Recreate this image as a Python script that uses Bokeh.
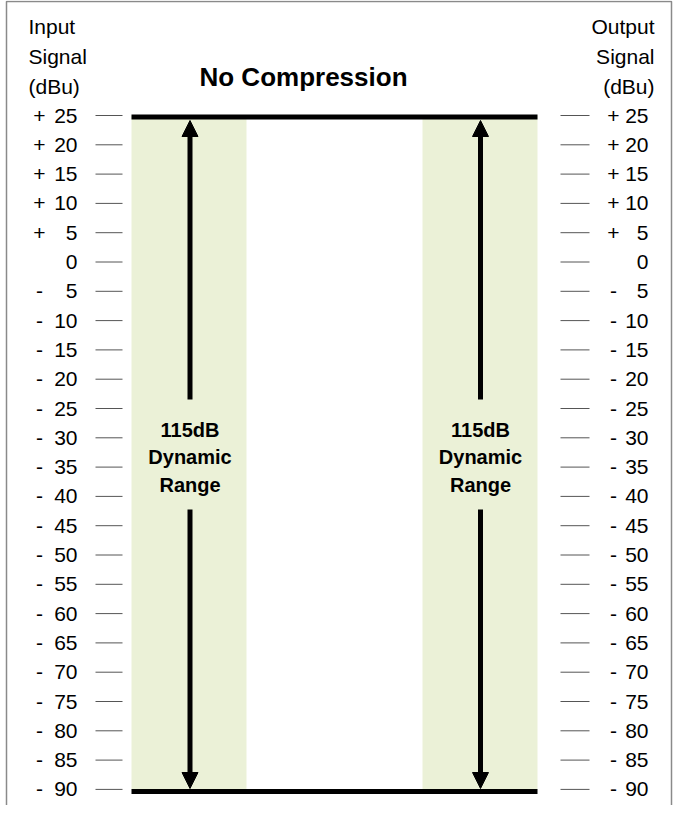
from bokeh.plotting import figure
from bokeh.models import Range1d, Arrow, NormalHead
from bokeh.core.properties import value
from bokeh.embed import file_html
from bokeh.resources import INLINE

# ---- data ----
levels = [25, 20, 15, 10, 5, 0, -5, -10, -15, -20, -25, -30, -35, -40, -45,
          -50, -55, -60, -65, -70, -75, -80, -85, -90]
signs = ["+" if v > 0 else ("-" if v < 0 else "") for v in levels]
numbers = [str(abs(v)) for v in levels]
range_top = 25
range_bottom = -90
range_label = ["115dB", "Dynamic", "Range"]
title_text = "No Compression"
left_header = ["Input", "Signal", "(dBu)"]
right_header = ["Output", "Signal", "(dBu)"]

FONT = value("Liberation Sans")
W, H = 673, 805
PX_PER_DB = 5.86
TOP_PX = 123  # pixel row of +25
y_top = range_top + (TOP_PX - 8) / PX_PER_DB
y_bot = range_top - (8 + H - TOP_PX) / PX_PER_DB

p = figure(width=W, height=H, output_backend="svg", toolbar_location=None,
           x_range=Range1d(8, 8 + W), y_range=Range1d(y_bot, y_top),
           min_border=0, background_fill_color="white", border_fill_color="white")
p.extra_y_ranges = {"px": Range1d(8 + H, 8)}
p.axis.visible = False
p.grid.visible = False
p.outline_line_color = None

def db(px):
    return range_top - (px - TOP_PX) / PX_PER_DB

# frame
p.line(x=[14, 14, 679, 679], y=[8 + H + 5, 9, 9, 8 + H + 5], y_range_name="px",
       line_color="#8a8a8a", line_width=1.5)

# green bands
p.quad(left=[139, 430], right=[254, 545], top=[range_top] * 2, bottom=[range_bottom] * 2,
       fill_color="#ebf1d7", line_color=None)

# thick limit lines
p.segment(x0=[139, 139], x1=[545, 545], y0=[range_top - 0.25, range_bottom - 0.35],
          y1=[range_top - 0.25, range_bottom - 0.35], line_color="black", line_width=5)

# tick dashes
p.segment(x0=[103] * len(levels), x1=[130] * len(levels), y0=levels, y1=levels,
          line_color="#555555", line_width=1)
p.segment(x0=[568] * len(levels), x1=[597] * len(levels), y0=levels, y1=levels,
          line_color="#555555", line_width=1)

common = dict(text_font=FONT, text_font_size="21px", text_color="black", text_baseline="middle")
# left labels
p.text(x=[47] * len(levels), y=levels, text=signs, text_align="center", **common)
p.text(x=[85] * len(levels), y=levels, text=numbers, text_align="right", **common)
# right labels
p.text(x=[621] * len(levels), y=levels, text=signs, text_align="center", **common)
p.text(x=[656] * len(levels), y=levels, text=numbers, text_align="right", **common)

# headers
hy = [34, 64, 94]
p.text(x=[36] * 3, y=hy, text=left_header, text_align="left", y_range_name="px", **common)
p.text(x=[662] * 3, y=hy, text=right_header, text_align="right", y_range_name="px", **common)

# title
p.text(x=[311], y=[84], text=[title_text], text_align="center", y_range_name="px",
       text_font=FONT, text_font_size="26px", text_font_style="bold",
       text_baseline="middle", text_color="black")

# arrows and labels
for ax in [197.5, 488]:
    p.add_layout(Arrow(end=NormalHead(size=16, fill_color="black", line_color="black"),
                       x_start=ax, y_start=db(407), x_end=ax, y_end=db(128),
                       line_color="black", line_width=5))
    p.add_layout(Arrow(end=NormalHead(size=16, fill_color="black", line_color="black"),
                       x_start=ax, y_start=db(517), x_end=ax, y_end=db(796),
                       line_color="black", line_width=5))
    p.text(x=[ax] * 3, y=[437, 464, 492], text=range_label, text_align="center",
           y_range_name="px", text_font=FONT, text_font_size="20px",
           text_font_style="bold", text_baseline="middle", text_color="black")

open("out.html", "w").write(file_html(p, INLINE))
